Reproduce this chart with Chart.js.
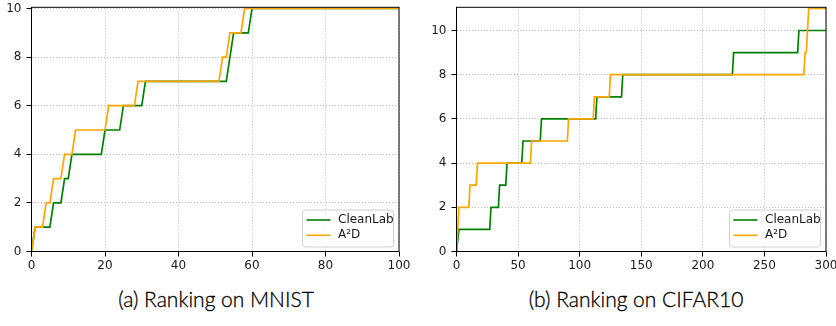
<!DOCTYPE html>
<html><head><meta charset="utf-8">
<script src="https://cdn.jsdelivr.net/npm/chart.js@4.4.1/dist/chart.umd.min.js"></script>
<style>
html,body{margin:0;padding:0;background:#fff;width:836px;height:326px;overflow:hidden;}
#wrap{position:relative;width:836px;height:326px;overflow:hidden;}
canvas{position:absolute;top:0;}
.cap{position:absolute;top:287px;line-height:24px;font-family:Lato,"Open Sans",sans-serif;font-weight:300;font-size:21px;color:#000;-webkit-text-stroke:0.3px #000;white-space:nowrap;transform:translateX(-50%);}
</style></head><body>
<div id="wrap">
<canvas id="c1" width="418" height="280" style="left:0"></canvas>
<canvas id="c2" width="428" height="280" style="left:418px"></canvas>
<div class="cap" id="cap1" style="left:216px"></div>
<div class="cap" id="cap2" style="left:636px"></div>
</div>
<script>
// ---- data ----
const seriesNames = ['CleanLab', 'A²D'];
const seriesColors = ['#008000', '#FFA500'];

const mnistCleanLabX = [0,1,5,6,8,9,10,11,19,20,24,25,30,31,53,55,59,60,100];
const mnistCleanLabY = [0,1,1,2,2,3,3,4,4,5,5,6,6,7,7,9,9,10,10];
const mnistA2DX = [0,1,3,4,5,6,8,9,11,12,20,21,28,29,51,52,53,54,57,58,100];
const mnistA2DY = [0,1,1,2,2,3,3,4,4,5,5,6,6,7,7,8,8,9,9,10,10];

const cifarCleanLabX = [0,2,27,28,34,35,40,41,53,54,68,69,113,114,134,135,224,225,277,278,300];
const cifarCleanLabY = [0,1,1,2,2,3,3,4,4,5,5,6,6,7,7,8,8,9,9,10,10];
const cifarA2DX = [0,2,10,11,16,17,60,61,90,91,111,112,124,125,282,283,284,286,300];
const cifarA2DY = [0,2,2,3,3,4,4,5,5,6,6,7,7,8,8,9,9,11,11];

const mnistXTicks = [0,20,40,60,80,100];
const mnistYTicks = [0,2,4,6,8,10];
const cifarXTicks = [0,50,100,150,200,250,300];
const cifarYTicks = [0,2,4,6,8,10];

const captions = ['(a) Ranking on MNIST', '(b) Ranking on CIFAR10'];
// ---------------------------------------

document.getElementById('cap1').textContent = captions[0];
document.getElementById('cap2').textContent = captions[1];

const pts = (xs, ys) => xs.map((x, i) => ({x: x, y: ys[i]}));

const overlay = {
  id: 'overlay',
  afterDraw(chart) {
    const ctx = chart.ctx, a = chart.chartArea;
    ctx.save();
    ctx.setLineDash([]);
    ctx.strokeStyle = '#000';
    ctx.lineWidth = 1;
    ctx.strokeRect(a.left, a.top, a.right - a.left, a.bottom - a.top);
    // legend
    const w = 91, h = 37;
    const x0 = a.right - 5.5 - w, y0 = a.bottom - 4.5 - h;
    const r = 3;
    ctx.beginPath();
    ctx.moveTo(x0 + r, y0);
    ctx.lineTo(x0 + w - r, y0);
    ctx.quadraticCurveTo(x0 + w, y0, x0 + w, y0 + r);
    ctx.lineTo(x0 + w, y0 + h - r);
    ctx.quadraticCurveTo(x0 + w, y0 + h, x0 + w - r, y0 + h);
    ctx.lineTo(x0 + r, y0 + h);
    ctx.quadraticCurveTo(x0, y0 + h, x0, y0 + h - r);
    ctx.lineTo(x0, y0 + r);
    ctx.quadraticCurveTo(x0, y0, x0 + r, y0);
    ctx.closePath();
    ctx.fillStyle = 'rgba(255,255,255,0.8)';
    ctx.fill();
    ctx.strokeStyle = '#d0d0d0';
    ctx.lineWidth = 1;
    ctx.stroke();
    chart.data.datasets.forEach((ds, i) => {
      const yy = y0 + 10 + i * 15.3;
      ctx.strokeStyle = ds.borderColor;
      ctx.lineWidth = 1.6;
      ctx.beginPath();
      ctx.moveTo(x0 + 4, yy);
      ctx.lineTo(x0 + 28, yy);
      ctx.stroke();
      ctx.fillStyle = '#1a1a1a';
      ctx.font = '12px "DejaVu Sans"';
      ctx.textBaseline = 'middle';
      ctx.textAlign = 'left';
      ctx.fillText(ds.label, x0 + 35.5, yy);
    });
    ctx.restore();
  }
};

function makeChart(id, sets, xMax, yMax, xTicks, yTicks, yAxisW, padRight) {
  const datasets = sets.map((s, i) => ({
    label: seriesNames[i],
    data: pts(s[0], s[1]),
    borderColor: seriesColors[i],
    backgroundColor: seriesColors[i],
    borderWidth: 1.7,
    pointRadius: 0,
    tension: 0,
    fill: false,
    order: 2 - i
  }));
  const tickFont = {family: 'DejaVu Sans', size: 12};
  return new Chart(document.getElementById(id), {
    type: 'line',
    data: {datasets},
    options: {
      responsive: false,
      animation: false,
      devicePixelRatio: 1,
      layout: {padding: {top: 7.3, left: 0, right: padRight, bottom: 0}},
      plugins: {legend: {display: false}, tooltip: {enabled: false}},
      scales: {
        x: {
          type: 'linear', min: 0, max: xMax,
          afterBuildTicks: sc => { sc.ticks = xTicks.map(v => ({value: v})); },
          afterFit: sc => { sc.height = 28.5; sc.paddingLeft = 0; sc.paddingRight = 0; },
          ticks: {font: tickFont, color: '#1a1a1a', padding: 2, maxRotation: 0, autoSkip: false},
          grid: {color: '#b8b8b8', lineWidth: 0.9, tickColor: '#000', tickLength: 5, tickWidth: 1, tickBorderDash: []},
          border: {display: false, dash: [1, 2]}
        },
        y: {
          type: 'linear', min: 0, max: yMax,
          afterBuildTicks: sc => { sc.ticks = yTicks.map(v => ({value: v})); },
          afterFit: sc => { sc.width = yAxisW; sc.paddingTop = 0; sc.paddingBottom = 0; },
          ticks: {font: tickFont, color: '#1a1a1a', padding: 5, autoSkip: false},
          grid: {color: '#b8b8b8', lineWidth: 0.9, tickColor: '#000', tickLength: 5, tickWidth: 1, tickBorderDash: []},
          border: {display: false, dash: [1, 2]}
        }
      }
    },
    plugins: [overlay]
  });
}

makeChart('c1', [[mnistCleanLabX, mnistCleanLabY], [mnistA2DX, mnistA2DY]], 100, 10.05, mnistXTicks, mnistYTicks, 31.5, 19);
makeChart('c2', [[cifarCleanLabX, cifarCleanLabY], [cifarA2DX, cifarA2DY]], 300, 11.05, cifarXTicks, cifarYTicks, 38.5, 20);
</script>
</body></html>
